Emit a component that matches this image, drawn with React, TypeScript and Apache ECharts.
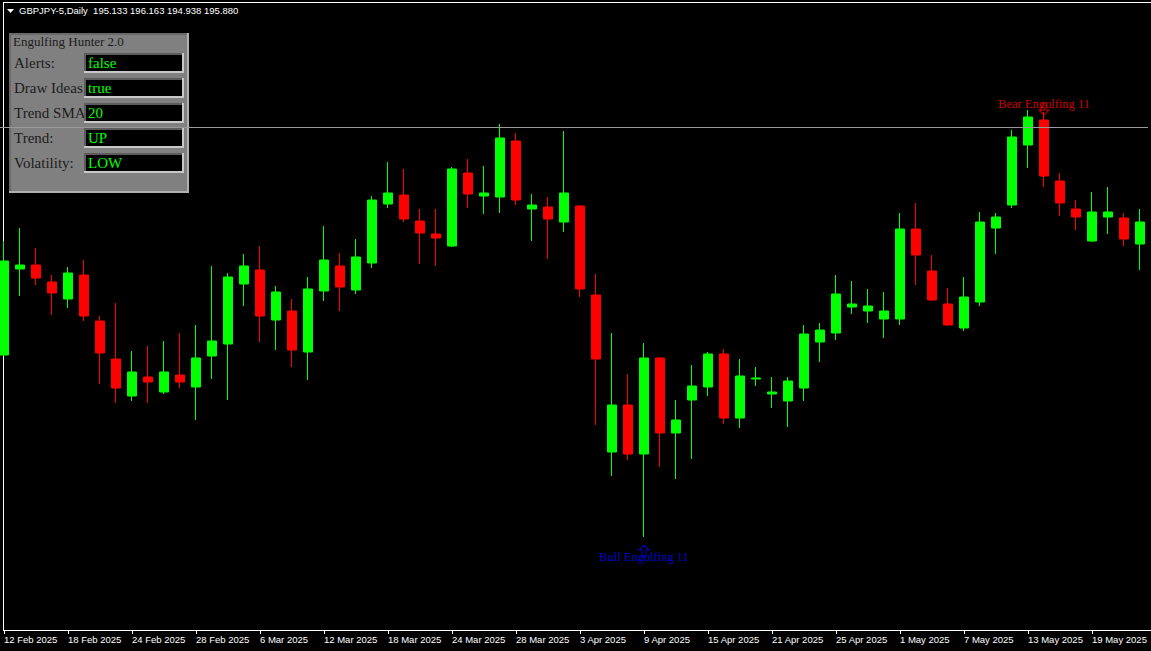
import React, { useEffect, useRef } from "react";
import * as echarts from "echarts";

const dates = [
  "12 Feb 2025", "13 Feb 2025", "14 Feb 2025", "17 Feb 2025", "18 Feb 2025", "19 Feb 2025", "20 Feb 2025", "21 Feb 2025",
  "24 Feb 2025", "25 Feb 2025", "26 Feb 2025", "27 Feb 2025", "28 Feb 2025",
  "3 Mar 2025", "4 Mar 2025", "5 Mar 2025", "6 Mar 2025", "7 Mar 2025", "10 Mar 2025", "11 Mar 2025", "12 Mar 2025",
  "13 Mar 2025", "14 Mar 2025", "17 Mar 2025", "18 Mar 2025", "19 Mar 2025", "20 Mar 2025", "21 Mar 2025",
  "24 Mar 2025", "25 Mar 2025", "26 Mar 2025", "27 Mar 2025", "28 Mar 2025", "31 Mar 2025",
  "1 Apr 2025", "2 Apr 2025", "3 Apr 2025", "4 Apr 2025", "7 Apr 2025", "8 Apr 2025", "9 Apr 2025", "10 Apr 2025",
  "11 Apr 2025", "14 Apr 2025", "15 Apr 2025", "16 Apr 2025", "17 Apr 2025", "18 Apr 2025", "21 Apr 2025",
  "22 Apr 2025", "23 Apr 2025", "24 Apr 2025", "25 Apr 2025", "28 Apr 2025", "29 Apr 2025", "30 Apr 2025",
  "1 May 2025", "2 May 2025", "5 May 2025", "6 May 2025", "7 May 2025", "8 May 2025", "9 May 2025", "12 May 2025",
  "13 May 2025", "14 May 2025", "15 May 2025", "16 May 2025", "19 May 2025", "20 May 2025", "21 May 2025", "22 May 2025",
];

const opens = [
  189.80, 193.24, 193.40, 192.72, 192.04, 193.00, 191.16, 189.64, 188.16, 188.92,
  188.32, 189.00, 188.52, 189.76, 190.24, 192.64, 193.20, 191.20, 191.56, 189.92,
  192.36, 193.36, 192.40, 193.48, 195.84, 196.20, 195.16, 194.64, 194.16, 197.08,
  196.16, 196.12, 198.36, 195.64, 195.72, 195.12, 195.76, 192.20, 185.92, 187.80,
  185.84, 189.68, 186.68, 188.00, 188.52, 189.84, 187.28, 188.84, 188.24, 187.96,
  188.48, 190.32, 190.68, 191.72, 191.56, 191.24, 191.24, 194.84, 193.16, 191.84,
  190.88, 191.92, 194.88, 195.80, 198.20, 199.20, 196.76, 195.64, 194.36, 195.32,
  195.28, 194.24,
];

const closes = [
  193.56, 193.40, 192.88, 192.28, 193.08, 191.36, 189.88, 188.48, 189.12, 188.72,
  189.12, 188.72, 189.68, 190.36, 192.92, 193.36, 191.36, 192.32, 190.00, 192.44,
  193.60, 192.52, 193.72, 196.00, 196.28, 195.24, 194.68, 194.48, 197.24, 196.24,
  196.28, 198.48, 196.00, 195.80, 195.24, 196.28, 192.44, 189.64, 187.80, 185.84,
  189.68, 186.68, 187.20, 188.56, 189.84, 187.28, 188.96, 188.88, 188.32, 188.76,
  190.64, 190.80, 192.24, 191.84, 191.76, 191.56, 194.84, 193.80, 192.00, 191.00,
  192.12, 195.12, 195.32, 198.52, 199.32, 196.96, 195.88, 195.32, 195.52, 195.52,
  194.44, 195.12,
];

const lows = [
  189.76, 192.16, 192.60, 191.40, 191.68, 191.16, 188.64, 187.88, 187.96, 187.88,
  188.24, 188.48, 187.20, 188.84, 188.00, 191.76, 190.32, 190.00, 189.32, 188.80,
  191.96, 191.56, 192.24, 193.28, 195.68, 195.12, 193.44, 193.36, 194.12, 195.68,
  195.44, 195.48, 195.80, 194.36, 193.64, 194.72, 192.12, 187.00, 184.96, 185.60,
  182.52, 185.32, 184.84, 185.64, 188.16, 187.04, 186.88, 188.56, 187.68, 186.92,
  187.96, 189.52, 190.40, 191.44, 191.08, 190.48, 191.00, 192.60, 191.96, 190.96,
  190.76, 191.76, 193.84, 195.68, 197.28, 196.52, 195.36, 194.80, 194.32, 194.64,
  194.16, 193.20,
];

const highs = [
  194.36, 194.88, 194.08, 193.00, 193.32, 193.60, 191.36, 191.88, 189.96, 190.16,
  190.36, 190.68, 191.00, 193.36, 193.08, 193.84, 194.16, 192.56, 192.04, 192.92,
  194.96, 193.88, 194.44, 196.16, 197.52, 197.24, 195.64, 195.64, 197.32, 197.64,
  197.36, 199.04, 198.68, 196.24, 196.12, 198.76, 195.80, 193.04, 190.68, 189.04,
  190.28, 189.72, 188.00, 189.40, 189.92, 190.04, 189.64, 189.32, 188.92, 188.92,
  191.00, 191.08, 193.00, 192.76, 192.44, 192.32, 195.48, 195.88, 193.80, 192.48,
  192.92, 195.52, 195.48, 198.80, 199.60, 199.52, 197.08, 196.00, 196.32, 196.52,
  195.48, 195.64,
];

const levelLine = [198.91];

const bullDates = ["9 Apr 2025"];
const bullPrices = [181.96];
const bullLabels = ["Bull Engulfing 11"];

const bearDates = ["14 May 2025"];
const bearPrices = [199.64];
const bearLabels = ["Bear Engulfing 11"];

const headerText = "GBPJPY-5,Daily  195.133 196.163 194.938 195.880";
const panelTitle = "Engulfing Hunter 2.0";
const panelLabels = ["Alerts:", "Draw Ideas", "Trend SMA", "Trend:", "Volatility:"];
const panelValues = ["false", "true", "20", "UP", "LOW"];

const Y_MIN = 178.8;
const Y_MAX = 204;

export default function App() {
  const ref = useRef<HTMLDivElement>(null);

  useEffect(() => {
    if (!ref.current) return;
    const chart = echarts.init(ref.current, null, { renderer: "svg" });
    const candles = dates.map((_, i) => [opens[i], closes[i], lows[i], highs[i]]);

    const panelEls: any[] = [
      { type: "rect", shape: { x: 9, y: 33, width: 180, height: 160 }, style: { fill: "#b0b0b0" } },
      { type: "rect", shape: { x: 9, y: 33, width: 178, height: 158 }, style: { fill: "#6a6a6a" } },
      { type: "rect", shape: { x: 11, y: 35, width: 176, height: 156 }, style: { fill: "#808080" } },
      {
        type: "text", x: 13, y: 41,
        style: { text: panelTitle, fill: "#1c1c1c", font: '13px "Liberation Serif"', verticalAlign: "middle", textVerticalAlign: "middle" },
      },
    ];
    panelLabels.forEach((t, i) => {
      panelEls.push({
        type: "text", x: 14, y: 63 + 25 * i,
        style: { text: t, fill: "#1c1c1c", font: '15px "Liberation Serif"', verticalAlign: "middle", textVerticalAlign: "middle" },
      });
    });
    panelValues.forEach((t, i) => {
      const y0 = 53 + 25 * i;
      panelEls.push({ type: "rect", shape: { x: 84, y: y0, width: 100, height: 20 }, style: { fill: "#c8c8c8" } });
      panelEls.push({ type: "rect", shape: { x: 84, y: y0, width: 98, height: 18 }, style: { fill: "#5c5c5c" } });
      panelEls.push({ type: "rect", shape: { x: 86, y: y0 + 2, width: 96, height: 16 }, style: { fill: "#000000" } });
      panelEls.push({
        type: "text", x: 88, y: y0 + 10,
        style: { text: t, fill: "#00ff00", font: '15px "Liberation Serif"', verticalAlign: "middle", textVerticalAlign: "middle" },
      });
    });

    const option: any = {
      animation: false,
      backgroundColor: "#000000",
      grid: { left: 0, top: 0, width: 1152, height: 630, containLabel: false },
      xAxis: {
        type: "category",
        data: dates,
        boundaryGap: true,
        axisLine: { show: false },
        axisTick: { show: true, alignWithLabel: true, interval: 3, length: 4, lineStyle: { color: "#ffffff", width: 1 } },
        axisLabel: {
          interval: 3, align: "left", color: "#ffffff", fontFamily: "Liberation Sans", fontSize: 9.5, margin: 4,
          hideOverlap: false,
        },
        splitLine: { show: false },
      },
      yAxis: {
        type: "value",
        min: Y_MIN,
        max: Y_MAX,
        show: false,
        splitLine: { show: false },
      },
      series: [
        {
          type: "candlestick",
          data: candles,
          barWidth: 10,
          itemStyle: {
            color: "#00ff00",
            color0: "#ff0000",
            borderColor: "#00ff00",
            borderColor0: "#ff0000",
            borderWidth: 1,
          },
          markLine: {
            silent: true,
            symbol: "none",
            label: { show: false },
            lineStyle: { color: "#9a9a9a", width: 1, type: "solid" },
            data: levelLine.map((v) => ({ yAxis: v })),
          },
        },
        {
          type: "scatter",
          data: bullDates.map((d, i) => [d, bullPrices[i]]),
          symbol: "path://M5,0 L10,5 L7,5 L7,12 L3,12 L3,5 L0,5 Z",
          symbolSize: [10, 12],
          itemStyle: { color: "rgba(0,0,0,0)", borderColor: "#0000ff", borderWidth: 1 },
          label: {
            show: true,
            position: "inside",
            offset: [0, 6],
            formatter: (p: any) => bullLabels[p.dataIndex],
            color: "#0000ff",
            fontFamily: "Liberation Serif",
            fontSize: 12.5,
          },
          z: 5,
        },
        {
          type: "scatter",
          data: bearDates.map((d, i) => [d, bearPrices[i]]),
          symbol: "path://M3,0 L7,0 L7,7 L10,7 L5,12 L0,7 L3,7 Z",
          symbolSize: [10, 12],
          itemStyle: { color: "rgba(0,0,0,0)", borderColor: "#e00000", borderWidth: 1 },
          label: {
            show: true,
            position: "inside",
            offset: [0, -5],
            formatter: (p: any) => bearLabels[p.dataIndex],
            color: "#ff0000",
            fontFamily: "Liberation Serif",
            fontSize: 12.5,
          },
          z: 5,
        },
      ],
      graphic: [
        {
          type: "group",
          x: 4,
          y: 0,
          z: 100,
          children: [
            { type: "rect", shape: { x: -4, y: 0, width: 7, height: 651 }, style: { fill: "#000000" } },
            { type: "line", shape: { x1: 3, y1: 2.5, x2: 1151, y2: 2.5 }, style: { stroke: "#ffffff", lineWidth: 1 } },
            { type: "line", shape: { x1: 3.5, y1: 2, x2: 3.5, y2: 631 }, style: { stroke: "#ffffff", lineWidth: 1 } },
            { type: "line", shape: { x1: 3, y1: 630.5, x2: 1151, y2: 630.5 }, style: { stroke: "#ffffff", lineWidth: 1 } },
            { type: "polygon", shape: { points: [[7, 9], [14, 9], [10.5, 13]] }, style: { fill: "#ffffff" } },
            {
              type: "text", x: 19, y: 10.5,
              style: { text: headerText, fill: "#ffffff", font: '9.5px "Liberation Sans"', verticalAlign: "middle", textVerticalAlign: "middle" },
            },
            ...panelEls,
          ],
        },
      ],
    };

    chart.setOption(option);
    return () => chart.dispose();
  }, []);

  return (
    <div
      ref={ref}
      style={{ position: "fixed", left: -4, top: 0, width: 1155, height: 651, background: "#000000" }}
    />
  );
}
